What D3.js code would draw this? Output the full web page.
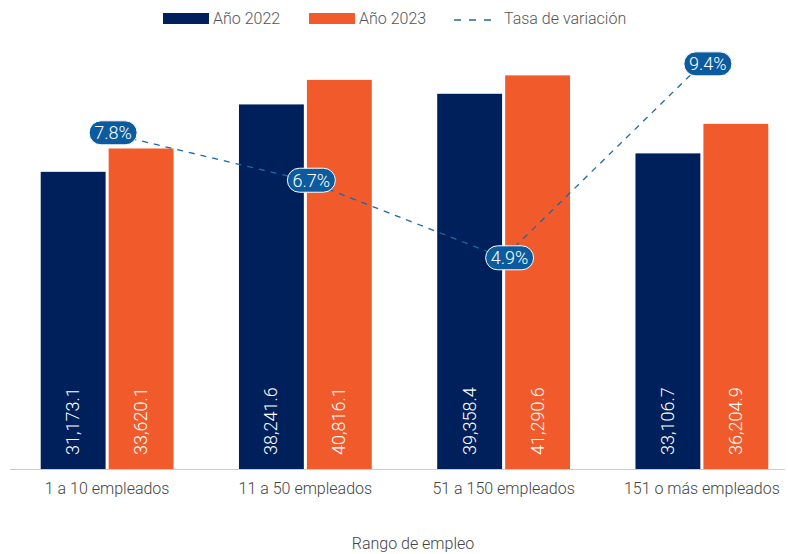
<!DOCTYPE html>
<html>
<head>
<meta charset="utf-8">
<script src="https://cdn.jsdelivr.net/npm/d3@7"></script>
<style>
  body { margin: 0; background: #fff; }
  text { font-family: Roboto, "Noto Sans", sans-serif; font-weight: 300; }
</style>
</head>
<body>
<div id="chart"></div>
<script>
// data
var categories = ["1 a 10 empleados", "11 a 50 empleados", "51 a 150 empleados", "151 o más empleados"];
var series = ["Año 2022", "Año 2023"];
var values2022 = [31173.1, 38241.6, 39358.4, 33106.7];
var values2023 = [33620.1, 40816.1, 41290.6, 36204.9];
var rates = [7.8, 6.7, 4.9, 9.4];
var rateLabel = "Tasa de variación";
var axisTitle = "Rango de empleo";

var colors = {"Año 2022": "#00205b", "Año 2023": "#f15a2b"};
var lineColor = "#1a6aab";
var pillColor = "#0b5b9e";

var width = 788, height = 554;
var baseY = 469;

var svg = d3.select("#chart")
  .append("svg")
    .attr("width", width)
    .attr("height", height);

// scales
var x = d3.scaleBand()
  .domain(categories)
  .range([8, 801])
  .paddingInner(0.33)
  .paddingOuter(0.165);

var xs = d3.scaleBand()
  .domain(series)
  .range([0, x.bandwidth()])
  .paddingInner(0.045);

var y = d3.scaleLinear()
  .domain([0, 45000])
  .range([baseY, 40]);

var y2 = d3.scaleLinear()
  .domain([0, 10])
  .range([baseY, 38]);

var rows = categories.map(function(c, i) {
  return {cat: c, vals: [
    {s: series[0], v: values2022[i]},
    {s: series[1], v: values2023[i]}
  ]};
});

// bars
var groups = svg.selectAll(".grp")
  .data(rows)
  .enter()
  .append("g")
    .attr("class", "grp")
    .attr("transform", function(d) { return "translate(" + x(d.cat) + ",0)"; });

groups.selectAll("rect")
  .data(function(d) { return d.vals; })
  .enter()
  .append("rect")
    .attr("x", function(d) { return xs(d.s); })
    .attr("y", function(d) { return y(d.v); })
    .attr("width", xs.bandwidth())
    .attr("height", function(d) { return baseY - y(d.v); })
    .attr("fill", function(d) { return colors[d.s]; });

// value labels inside bars
groups.selectAll(".val")
  .data(function(d) { return d.vals; })
  .enter()
  .append("text")
    .attr("class", "val")
    .attr("transform", function(d) {
      return "translate(" + (xs(d.s) + xs.bandwidth() / 2 + 6) + "," + (baseY - 14) + ")rotate(-90)";
    })
    .attr("fill", "#fff")
    .style("font-size", "18px")
    .text(function(d) { return d3.format(",.1f")(d.v); });

// x axis
var xAxis = svg.append("g")
  .attr("transform", "translate(0," + baseY + ")")
  .call(d3.axisBottom(x).tickSize(0).tickPadding(14));
xAxis.select(".domain").remove();
xAxis.selectAll("text")
  .style("font-size", "16px")
  .style("font-family", "Roboto, sans-serif")
  .style("font-weight", 300)
  .attr("fill", "#444");

svg.append("line")
  .attr("x1", 10).attr("x2", 785)
  .attr("y1", baseY + 0.5).attr("y2", baseY + 0.5)
  .attr("stroke", "#cccccc")
  .attr("stroke-width", 1);

// axis title
svg.append("text")
  .attr("x", 413)
  .attr("y", 549)
  .attr("text-anchor", "middle")
  .attr("fill", "#444")
  .style("font-size", "16px")
  .text(axisTitle);

// rate line
var pts = categories.map(function(c, i) {
  return {cat: c, r: rates[i]};
});

var line = d3.line()
  .x(function(d) { return x(d.cat) + x.bandwidth() / 2; })
  .y(function(d) { return y2(d.r); });

svg.append("path")
  .datum(pts)
  .attr("d", line)
  .attr("fill", "none")
  .attr("stroke", lineColor)
  .attr("stroke-width", 1.3)
  .attr("stroke-dasharray", "6,6");

// rate labels (pills)
var lab = svg.selectAll(".rl")
  .data(pts)
  .enter()
  .append("g")
    .attr("class", "rl")
    .attr("transform", function(d) {
      return "translate(" + (x(d.cat) + x.bandwidth() / 2 + 6) + "," + y2(d.r) + ")";
    });

lab.append("rect")
  .attr("x", -24).attr("y", -12)
  .attr("width", 48).attr("height", 24)
  .attr("rx", 12).attr("ry", 12)
  .attr("fill", pillColor)
  .attr("stroke", "#fff")
  .attr("stroke-width", 1);

lab.append("text")
  .attr("text-anchor", "middle")
  .attr("dy", "0.36em")
  .attr("fill", "#fff")
  .style("font-size", "18px")
  .text(function(d) { return d3.format(".1f")(d.r) + "%"; });

// legend
var legend = svg.append("g");
var legItems = [
  {label: series[0], x: 163, type: "rect", color: colors[series[0]]},
  {label: series[1], x: 309, type: "rect", color: colors[series[1]]},
  {label: rateLabel, x: 454, type: "line", color: lineColor}
];
legItems.forEach(function(it) {
  if (it.type === "rect") {
    legend.append("rect")
      .attr("x", it.x).attr("y", 13)
      .attr("width", 46).attr("height", 11)
      .attr("fill", it.color);
  } else {
    legend.append("line")
      .attr("x1", it.x).attr("x2", it.x + 45)
      .attr("y1", 20).attr("y2", 20)
      .attr("stroke", it.color)
      .attr("stroke-width", 1.5)
      .attr("stroke-dasharray", "7,8");
  }
  legend.append("text")
    .attr("x", it.x + 50)
    .attr("y", 24)
    .attr("fill", "#555")
    .style("font-size", "16px")
    .text(it.label);
});
</script>
</body>
</html>
